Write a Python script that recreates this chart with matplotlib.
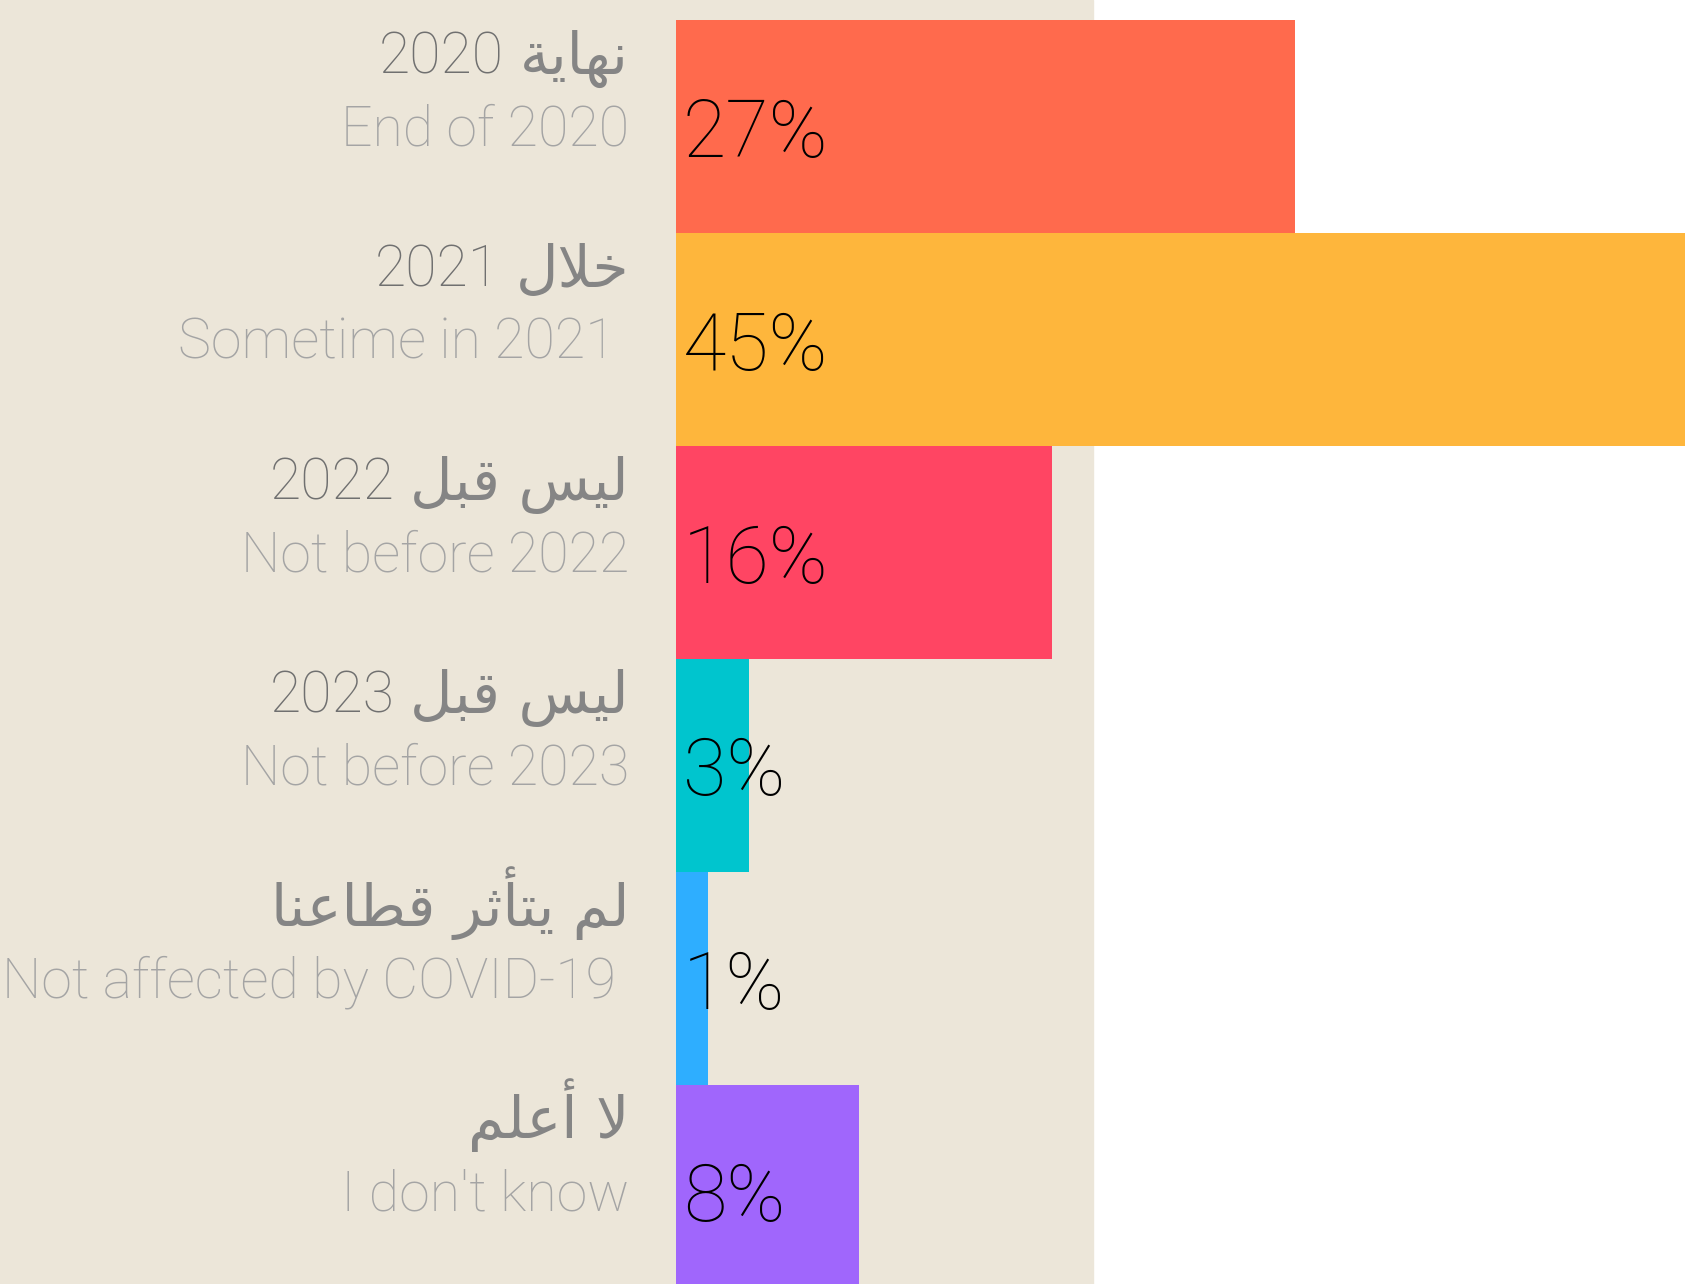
import matplotlib
matplotlib.use("Agg")
import matplotlib.pyplot as plt
from matplotlib.patches import Rectangle
from matplotlib.transforms import blended_transform_factory

# data
ar_labels = ["نهاية", "خلال", "ليس قبل", "ليس قبل", "لم يتأثر قطاعنا", "لا أعلم"]
ar_years = ["2020", "2021", "2022", "2023", "", ""]
en_labels = ["End of 2020", "Sometime in 2021 ", "Not before 2022", "Not before 2023",
             "Not affected by COVID-19 ", "I don't know"]
values = [27, 45, 16.4, 3.2, 1.4, 8]
pct_labels = ["27%", "45%", "16%", "3%", "1%", "8%"]
colors = ["#FF6A4D", "#FEB63C", "#FF4563", "#00C5CE", "#2EAEFF", "#A066FC"]

BEIGE = "#ECE6D9"

# minimal arabic shaping (matplotlib has no complex text layout)
AR = {
    'ا': (0xFE8D, 0xFE8E, None, None),
    'أ': (0xFE83, 0xFE84, None, None),
    'ب': (0xFE8F, 0xFE90, 0xFE91, 0xFE92),
    'ة': (0xFE93, 0xFE94, None, None),
    'ت': (0xFE95, 0xFE96, 0xFE97, 0xFE98),
    'ث': (0xFE99, 0xFE9A, 0xFE9B, 0xFE9C),
    'خ': (0xFEA5, 0xFEA6, 0xFEA7, 0xFEA8),
    'ر': (0xFEAD, 0xFEAE, None, None),
    'س': (0xFEB1, 0xFEB2, 0xFEB3, 0xFEB4),
    'ط': (0xFEC1, 0xFEC2, 0xFEC3, 0xFEC4),
    'ع': (0xFEC9, 0xFECA, 0xFECB, 0xFECC),
    'ق': (0xFED5, 0xFED6, 0xFED7, 0xFED8),
    'ل': (0xFEDD, 0xFEDE, 0xFEDF, 0xFEE0),
    'م': (0xFEE1, 0xFEE2, 0xFEE3, 0xFEE4),
    'ن': (0xFEE5, 0xFEE6, 0xFEE7, 0xFEE8),
    'ه': (0xFEE9, 0xFEEA, 0xFEEB, 0xFEEC),
    'ي': (0xFEF1, 0xFEF2, 0xFEF3, 0xFEF4),
}
LAM_ALEF = {'ا': (0xFEFB, 0xFEFC), 'أ': (0xFEF7, 0xFEF8)}


def shape(text):
    units = []
    i = 0
    while i < len(text):
        c = text[i]
        if c == 'ل' and i + 1 < len(text) and text[i + 1] in LAM_ALEF:
            units.append(('LA', text[i + 1]))
            i += 2
        else:
            units.append((c, None))
            i += 1

    def joins_fwd(u):
        return u[0] in AR and AR[u[0]][2] is not None

    def is_ar(u):
        return u[0] == 'LA' or u[0] in AR

    out = []
    for k, u in enumerate(units):
        prev = units[k - 1] if k > 0 else None
        nxt = units[k + 1] if k + 1 < len(units) else None
        jp = prev is not None and joins_fwd(prev)
        if u[0] == 'LA':
            out.append(chr(LAM_ALEF[u[1]][1 if jp else 0]))
            continue
        if u[0] not in AR:
            out.append(u[0])
            continue
        jn = nxt is not None and is_ar(nxt) and joins_fwd(u)
        iso, fin, ini, med = AR[u[0]]
        if jp and jn:
            out.append(chr(med))
        elif jp:
            out.append(chr(fin))
        elif jn:
            out.append(chr(ini))
        else:
            out.append(chr(iso))
    return ''.join(out)


def visual(text):
    # rtl: reverse word order and the letters of each word
    return ' '.join(w[::-1] for w in shape(text).split(' ')[::-1])


W, H = 1685, 1284
fig = plt.figure(figsize=(W / 100, H / 100), dpi=100)
fig.patch.set_facecolor("white")
fig.patches.append(Rectangle((0, 0), 1093 / W, 1, transform=fig.transFigure,
                             color=BEIGE, zorder=-5))

x0 = 676
px_per_pct = 22.93
row_h = 213
ax = fig.add_axes([x0 / W, 0, 1 - x0 / W, 1])
ax.set_facecolor("none")
ax.set_zorder(2)
ax.barh(range(len(values)), values, height=1.0, color=colors, zorder=2)
ax.set_xlim(0, (W - x0) / px_per_pct)
top = -0.5 - 20 / row_h
ax.set_ylim(top + H / row_h, top)
ax.axis("off")

renderer = fig.canvas.get_renderer()
trans = blended_transform_factory(fig.transFigure, ax.transData)
for i in range(len(values)):
    t = ax.text(629 / W, i - 53 / row_h, visual(ar_labels[i]), transform=trans,
                ha="right", va="baseline", fontsize=42, color="#858585",
                family=["DejaVu Sans"])
    if ar_years[i]:
        bb = t.get_window_extent(renderer)
        ax.text((bb.x0 - 16) / W, i - 53 / row_h, ar_years[i], transform=trans,
                ha="right", va="baseline", fontsize=41, color="#707070",
                family=["Roboto"], fontweight="light")
    ax.text(629 / W, i + 19 / row_h, en_labels[i], transform=trans,
            ha="right", va="baseline", fontsize=40, color="#a4a4a4",
            family=["Roboto"], fontweight="light")
    ax.text(0.3, i + 30 / row_h, pct_labels[i], ha="left", va="baseline",
            fontsize=57, color="black", family=["Roboto"], fontweight="light",
            zorder=3)

fig.savefig("out.png", dpi=100)
